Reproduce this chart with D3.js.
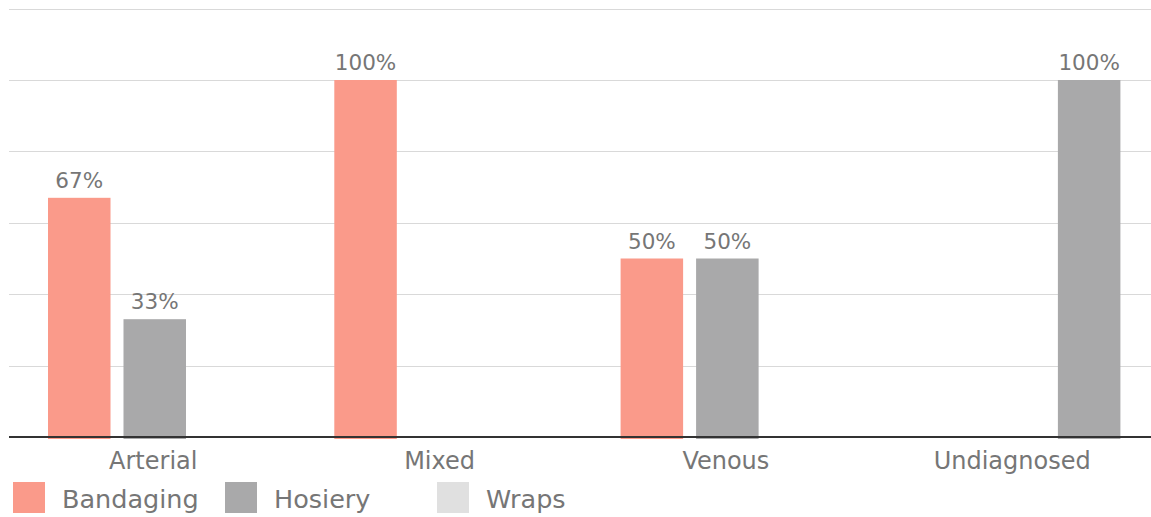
<!DOCTYPE html>
<html>
<head>
<meta charset="utf-8">
<script src="https://cdn.jsdelivr.net/npm/d3@7"></script>
<style>
  html, body { margin: 0; padding: 0; background: #fff; }
  svg { display: block; }
  text { font-family: "DejaVu Sans", Verdana, sans-serif; fill: #767676; }
</style>
</head>
<body>
<svg id="chart" width="1151" height="517"></svg>
<script>
// Compression therapy by ulcer diagnosis (share of patients, %)
const categories = ["Arterial", "Mixed", "Venous", "Undiagnosed"];
const seriesNames = ["Bandaging", "Hosiery", "Wraps"];
const bandaging = [67, 100, 50, null];
const hosiery = [33, null, 50, null];
const wraps = [null, null, null, 100];
const yTicks = [0, 20, 40, 60, 80, 100, 120];

const seriesColors = { Bandaging: "#fa9a8a", Hosiery: "#a9a9aa", Wraps: "#e0e0e0" };
// The Undiagnosed wraps bar is filled in the hosiery grey.
const pointFill = { "Undiagnosed|Wraps": seriesColors.Hosiery };

const values = { Bandaging: bandaging, Hosiery: hosiery, Wraps: wraps };
const rows = categories.map((c, i) => ({
  category: c,
  bars: seriesNames.map(s => ({ category: c, series: s, value: values[s][i] }))
}));

const svg = d3.select("#chart");
const plotLeft = 9, plotRight = 1151;

const y = d3.scaleLinear().domain([0, 120]).range([437, 8.6]);
const x0 = d3.scaleBand().domain(categories).range([11.6, 1156.8]).paddingInner(0).paddingOuter(0);
const x1 = d3.scaleBand().domain(seriesNames).range([36.4, 249.9]).paddingInner(0.172).paddingOuter(0);

// Horizontal gridlines
svg.append("g")
  .selectAll("line")
  .data(yTicks.filter(t => t > 0))
  .join("line")
  .attr("x1", plotLeft).attr("x2", plotRight)
  .attr("y1", d => Math.round(y(d)) + 0.5).attr("y2", d => Math.round(y(d)) + 0.5)
  .attr("stroke", "#d9d9d9").attr("stroke-width", 1);

// Bars
const groups = svg.append("g")
  .selectAll("g")
  .data(rows)
  .join("g")
  .attr("transform", d => `translate(${x0(d.category)},0)`);

groups.selectAll("rect")
  .data(d => d.bars.filter(b => b.value != null))
  .join("rect")
  .attr("x", d => x1(d.series))
  .attr("width", x1.bandwidth())
  .attr("y", d => y(d.value))
  .attr("height", d => y(0) - y(d.value) + 2)
  .attr("fill", d => pointFill[d.category + "|" + d.series] || seriesColors[d.series]);

// Value labels
groups.selectAll("text.value")
  .data(d => d.bars.filter(b => b.value != null))
  .join("text")
  .attr("class", "value")
  .attr("x", d => x1(d.series) + x1.bandwidth() / 2)
  .attr("y", d => y(d.value) - 10)
  .attr("text-anchor", "middle")
  .attr("font-size", 21.5)
  .text(d => d.value + "%");

// Baseline and category axis
const xAxis = d3.axisBottom(x0).tickSize(0).tickPadding(0);
const axisG = svg.append("g")
  .attr("transform", `translate(0,${y(0)})`)
  .call(xAxis);
axisG.select(".domain").remove();
axisG.selectAll(".tick text")
  .attr("dy", 0)
  .attr("y", 32)
  .attr("dx", -1.5)
  .attr("font-size", 24)
  .attr("font-family", null)
  .style("fill", "#767676");

svg.append("line")
  .attr("x1", plotLeft).attr("x2", plotRight)
  .attr("y1", y(0)).attr("y2", y(0))
  .attr("stroke", "#333").attr("stroke-width", 2);

// Legend
const legend = svg.append("g")
  .selectAll("g")
  .data(seriesNames)
  .join("g")
  .attr("transform", (d, i) => `translate(${13 + i * 212},482)`);

legend.append("rect")
  .attr("width", 32).attr("height", 31)
  .attr("fill", d => seriesColors[d]);

legend.append("text")
  .attr("x", 49).attr("y", 26)
  .attr("font-size", 25.5)
  .text(d => d);
</script>
</body>
</html>
